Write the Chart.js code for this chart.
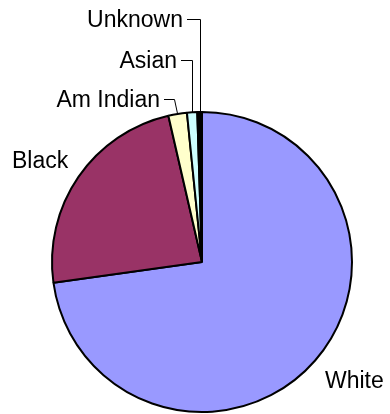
<!DOCTYPE html>
<html>
<head>
<meta charset="utf-8">
<script src="https://cdn.jsdelivr.net/npm/chart.js@4"></script>
<style>
    body { margin: 0; background: #fff; }
    #wrap { width: 390px; height: 414px; }
</style>
</head>
<body>
<div id="wrap"><canvas id="pieChart" width="390" height="414"></canvas></div>
<script>
// data (percent of total)
const categories = ['White', 'Black', 'Am Indian', 'Asian', 'Unknown'];
const shares = [72.8, 23.6, 2.0, 1.1, 0.5];
const sliceColors = ['#9999FF', '#993366', '#FFFFCC', '#CCFFFF', '#000000'];

// where each label text sits (x, baseline), and whether it gets a leader line
const labelSpots = [
    { x: 325, y: 388, align: 'left', leader: false },
    { x: 12, y: 168, align: 'left', leader: false },
    { x: 160, y: 107, align: 'right', leader: true },
    { x: 177, y: 68, align: 'right', leader: true },
    { x: 183, y: 27, align: 'right', leader: true }
];

const labelPlugin = {
    id: 'sliceLabels',
    afterDraw(chart) {
        const ctx = chart.ctx;
        const meta = chart.getDatasetMeta(0);
        ctx.save();
        ctx.font = '23px "Liberation Sans", Arial, sans-serif';
        ctx.fillStyle = '#000';
        ctx.strokeStyle = '#000';
        ctx.lineWidth = 1;
        ctx.textBaseline = 'alphabetic';
        meta.data.forEach((arc, i) => {
            const spot = labelSpots[i];
            const text = chart.data.labels[i];
            ctx.textAlign = spot.align;
            ctx.fillText(text, spot.x, spot.y);
            if (!spot.leader) return;
            const p = arc.getProps(['x', 'y', 'startAngle', 'endAngle', 'outerRadius'], true);
            const mid = (p.startAngle + p.endAngle) / 2;
            const ax = p.x + Math.cos(mid) * p.outerRadius;
            const ay = p.y + Math.sin(mid) * p.outerRadius;
            const ly = Math.round(spot.y - 8) + 0.5;
            const sx = spot.x + 4;
            // short tick, then down to the slice; straight down if the slice is close
            const ex = (ax - sx <= 13) ? Math.round(ax) + 0.5 : sx + 10.5;
            ctx.beginPath();
            ctx.moveTo(sx, ly);
            ctx.lineTo(ex, ly);
            ctx.lineTo(ex === Math.round(ax) + 0.5 ? ex : ax, ay);
            ctx.stroke();
        });
        ctx.restore();
    }
};

new Chart(document.getElementById('pieChart').getContext('2d'), {
    type: 'pie',
    data: {
        labels: categories,
        datasets: [{
            data: shares,
            backgroundColor: sliceColors,
            borderColor: '#000',
            borderWidth: 2
        }]
    },
    options: {
        responsive: false,
        animation: false,
        layout: { padding: { left: 51, right: 37, top: 111, bottom: 1 } },
        plugins: {
            legend: { display: false },
            tooltip: { enabled: false }
        }
    },
    plugins: [labelPlugin]
});
</script>
</body>
</html>
